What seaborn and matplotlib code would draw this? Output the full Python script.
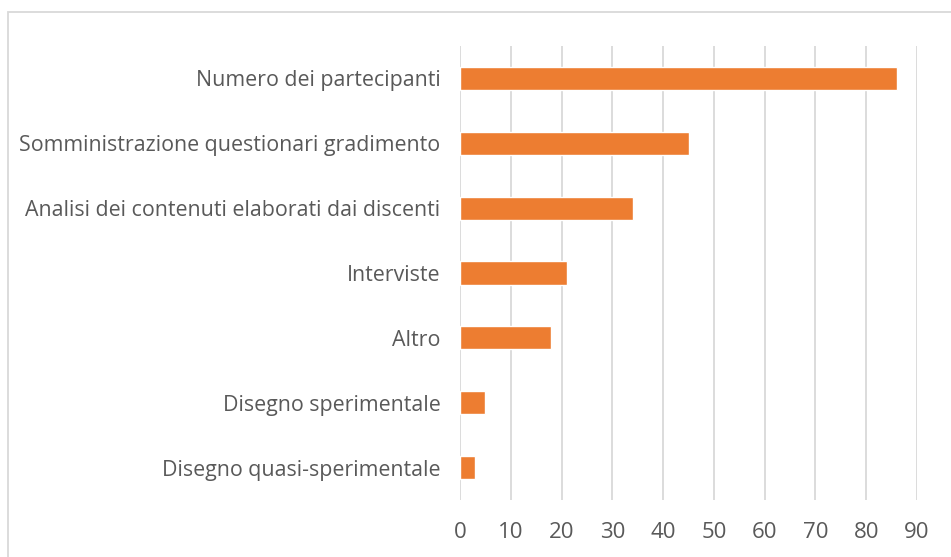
import matplotlib
matplotlib.use("Agg")
import matplotlib.pyplot as plt
import seaborn as sns
import pandas as pd
from matplotlib.patches import Rectangle

# data
categories = [
    "Numero dei partecipanti",
    "Somministrazione questionari gradimento",
    "Analisi dei contenuti elaborati dai discenti",
    "Interviste",
    "Altro",
    "Disegno sperimentale",
    "Disegno quasi-sperimentale",
]
values = [86, 45, 34, 21, 18, 5, 3]
x_ticks = [0, 10, 20, 30, 40, 50, 60, 70, 80, 90]

bar_color = "#ED7D31"
grid_color = "#D9D9D9"
text_color = "#595959"

sns.set_theme(style="white")
plt.rcParams["font.family"] = ["Open Sans", "DejaVu Sans"]

df = pd.DataFrame({"categoria": categories, "valore": values})

fig = plt.figure(figsize=(9.51, 5.57), dpi=100)
ax = fig.add_axes([460 / 951, 1 - 500 / 557, (917 - 460) / 951, 454 / 557])

sns.barplot(data=df, x="valore", y="categoria", color=bar_color,
            width=0.355, saturation=1, ax=ax, zorder=3)

ax.set_xlim(0, 90)
ax.set_ylim(6.5, -0.5)
ax.set_xticks(x_ticks)
ax.set_xticklabels([str(t) for t in x_ticks])
ax.xaxis.grid(True, color=grid_color, linewidth=1.3, zorder=0)
ax.set_axisbelow(True)
for s in ax.spines.values():
    s.set_visible(False)

ax.set_xlabel("")
ax.set_ylabel("")
ax.tick_params(axis="x", length=0, pad=16, labelsize=16, labelcolor=text_color)
ax.tick_params(axis="y", length=0, pad=14, labelsize=15.4, labelcolor=text_color)

# light frame round the chart area (cropped on right and bottom)
fig.patches.append(Rectangle((7.5 / 951, -0.1), 1.2, 1.1 - 12 / 557,
                             transform=fig.transFigure, fill=False,
                             edgecolor=grid_color, linewidth=1.3))

fig.savefig("out.png", dpi=100)
